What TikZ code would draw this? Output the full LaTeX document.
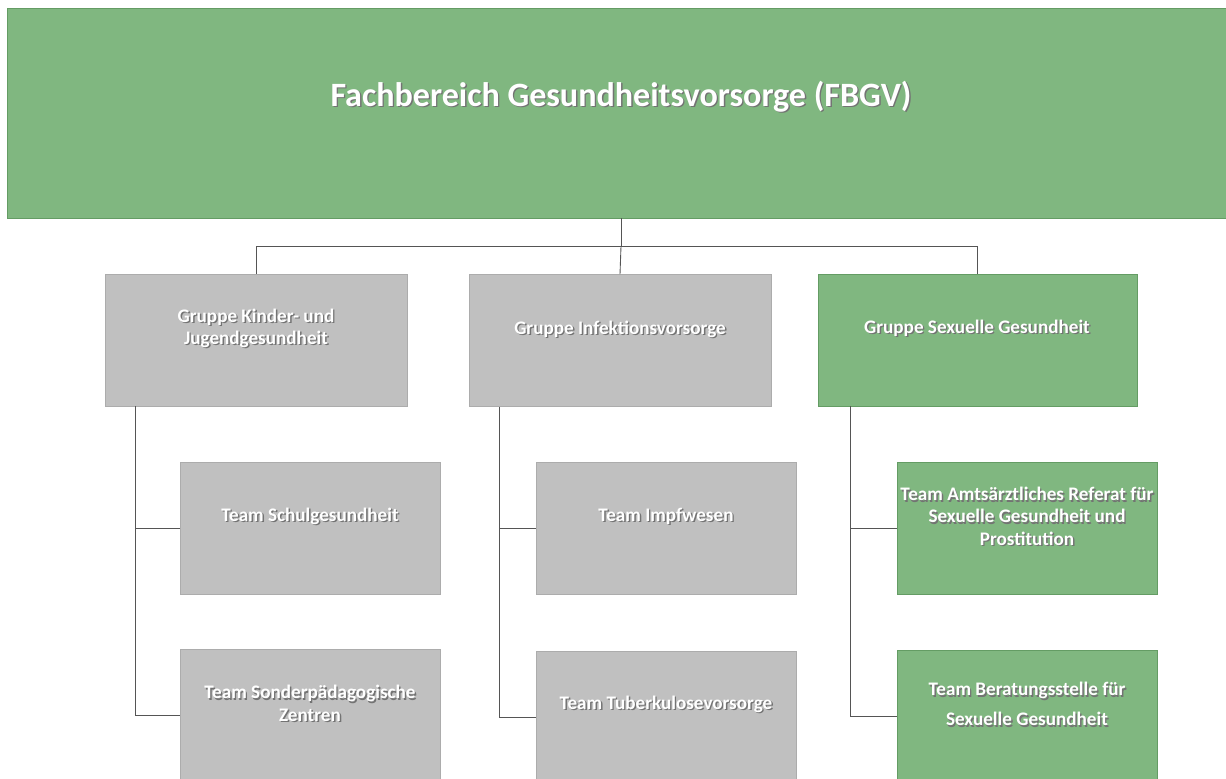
\documentclass[tikz,border=0pt]{standalone}
\usepackage{fontspec}
\setmainfont{Carlito}
\usepackage{tikz}
\usetikzlibrary{positioning,calc}
\usepackage{xcolor}
\definecolor{greenfill}{RGB}{128, 183, 128}
\definecolor{greenline}{RGB}{100, 156, 100}
\definecolor{grayfill}{RGB}{192, 192, 192}
\definecolor{grayline}{RGB}{172, 172, 172}
\definecolor{linkcolor}{RGB}{85, 85, 85}

% white text with a soft dark shadow
\newcommand{\shtxt}[1]{\leavevmode\rlap{\kern0.8pt\raisebox{-0.8pt}{\textcolor{black!55}{#1}}}\textcolor{white}{#1}}

\begin{document}
\begin{tikzpicture}[
    x=0.02cm, y=-0.02cm,
    head/.style={rectangle, draw=greenline, fill=greenfill, minimum width=24.4cm, minimum height=4.2cm, inner sep=0pt},
    grp/.style={rectangle, draw=grayline, fill=grayfill, minimum width=6.04cm, minimum height=2.64cm, inner sep=0pt},
    team/.style={rectangle, draw=grayline, fill=grayfill, minimum width=5.2cm, minimum height=2.64cm, inner sep=0pt},
    lbl/.style={align=center, font=\fontsize{10.9}{12.6}\selectfont\bfseries, inner sep=0pt},
    conn/.style={draw=linkcolor, line width=0.5pt},
]
    \path[use as bounding box, clip] (0,0) rectangle (1226,778);

    % Head
    \node[head] (top) at (617,113) {};
    \node[lbl, font=\fontsize{19.4}{22}\selectfont\bfseries] (toplbl) at (621,97) {\shtxt{Fachbereich Gesundheitsvorsorge (FBGV)}};

    % Groups
    \node[grp] (g1) at (256,340) {};
    \node[grp] (g2) at (620,340.5) {};
    \node[grp, draw=greenline, fill=greenfill, minimum width=6.38cm] (g3) at (977.5,340) {};
    \node[lbl] (g1lbl) at (256,329) {\shtxt{Gruppe Kinder- und}\\\shtxt{Jugendgesundheit}};
    \node[lbl] (g2lbl) at (620,330) {\shtxt{Gruppe Infektionsvorsorge}};
    \node[lbl] (g3lbl) at (977,329) {\shtxt{Gruppe Sexuelle Gesundheit}};

    \coordinate (hub) at (621,246);
    \draw[conn] (top.south -| hub) -- (hub);
    \draw[conn] (g1.north) -- (g1.north |- hub) -- (g3.north |- hub) -- (g3.north);
    \draw[conn] (hub) -- (g2.north);

    % Teams
    \node[team] (t1) at (310,528) {};
    \node[team] (t2) at (310,715) {};
    \node[team] (t3) at (666,528) {};
    \node[team] (t4) at (666,717) {};
    \node[team, draw=greenline, fill=greenfill] (t5) at (1027,528) {};
    \node[team, draw=greenline, fill=greenfill] (t6) at (1027,716) {};
    \node[lbl] (t1lbl) at (310,517) {\shtxt{Team Schulgesundheit}};
    \node[lbl] (t2lbl) at (310,704) {\shtxt{Team Sonderpädagogische}\\\shtxt{Zentren}};
    \node[lbl] (t3lbl) at (666,517) {\shtxt{Team Impfwesen}};
    \node[lbl] (t4lbl) at (666,705) {\shtxt{Team Tuberkulosevorsorge}};
    \node[lbl] (t5lbl) at (1027,517) {\shtxt{Team Amtsärztliches Referat für}\\\shtxt{Sexuelle Gesundheit und}\\\shtxt{Prostitution}};
    \node[lbl] (t6lbl) at (1027,705) {\shtxt{Team Beratungsstelle für}\\[4.5pt]\shtxt{Sexuelle Gesundheit}};

    % Group -> team links
    \coordinate (b1) at (135,406);
    \coordinate (b2) at (499,407);
    \coordinate (b3) at (850,406);
    \draw[conn] (b1) |- (t2.west);
    \draw[conn] (b1 |- t1.west) -- (t1.west);
    \draw[conn] (b2) |- (t4.west);
    \draw[conn] (b2 |- t3.west) -- (t3.west);
    \draw[conn] (b3) |- (t6.west);
    \draw[conn] (b3 |- t5.west) -- (t5.west);

\end{tikzpicture}
\end{document}
